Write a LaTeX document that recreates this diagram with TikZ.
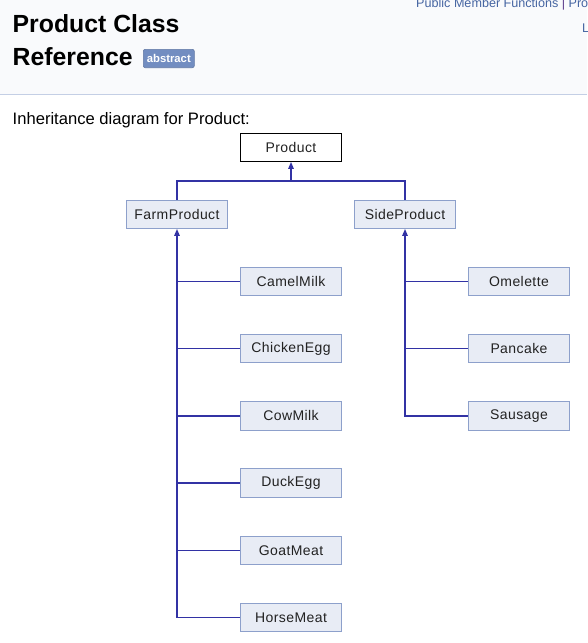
\documentclass[tikz,border=0pt]{standalone}
\usepackage{fontspec}
\setmainfont{Liberation Sans}
\newfontfamily\diafont[LetterSpace=3]{Liberation Sans}
\usetikzlibrary{arrows.meta}
\definecolor{headbg}{HTML}{F9FAFC}
\definecolor{headline}{HTML}{C4CFE5}
\definecolor{badgebg}{HTML}{728DC1}
\definecolor{linktext}{HTML}{4665A2}
\definecolor{classfill}{HTML}{E8ECF5}
\definecolor{classline}{HTML}{8DA0CB}
\definecolor{classtext}{HTML}{222222}
\definecolor{edgeblue}{HTML}{3232A4}
\begin{document}
\begin{tikzpicture}[x=1pt,y=-1pt,
  classbox/.style={draw=classline,fill=classfill,line width=1pt,minimum width=101.7pt,
    minimum height=28.3pt,inner sep=0pt,text=classtext,font=\diafont\fontsize{14}{16}\selectfont},
  rootbox/.style={classbox,draw=black,fill=white},
  inh/.style={draw=edgeblue,line width=1.35pt},
  inharrow/.style={inh,-{Triangle[length=7pt,width=5.5pt]}}]
\clip (0,0) rectangle (587,643);
\fill[white] (0,0) rectangle (587,643);
\fill[headbg] (0,0) rectangle (587,94);
\draw[headline,line width=1pt] (0,94.3) -- (587,94.3);
\node (links) at (416,7.3) [anchor=base west,text=linktext,inner sep=0pt,font=\fontsize{12.6}{14}\selectfont]
  {Public Member Functions \textcolor[HTML]{5A3A8A}{|} Protected};
\node (more) at (582,32.7) [anchor=base west,text=linktext,inner sep=0pt,font=\fontsize{12.6}{14}\selectfont] {List};
\node (title1) at (12.5,32.3) [anchor=base west,inner sep=0pt,font=\bfseries\fontsize{24.8}{28}\selectfont] {Product Class};
\node (title2) at (12.5,65) [anchor=base west,inner sep=0pt,font=\bfseries\fontsize{24.8}{28}\selectfont] {Reference};
\node (badge) at (168.8,58.5) [fill=badgebg,draw=badgebg!85!black,line width=0.6pt,rounded corners=2pt,
  minimum width=51pt,minimum height=18.4pt,inner sep=0pt,text=white,font=\bfseries\fontsize{11.3}{13}\selectfont] {abstract};
\node (caption) at (12.5,124) [anchor=base west,inner sep=0pt,font=\fontsize{16.6}{19}\selectfont] {Inheritance diagram for Product:};

\node (Product) at (291,147.3) [rootbox] {Product};
\node (FarmProduct) at (177,214.3) [classbox] {FarmProduct};
\node (SideProduct) at (405,214.3) [classbox] {SideProduct};
\coordinate (top) at (291,181);
\path[inh] (FarmProduct.north) |- (top) -| (SideProduct.north);
\path[inharrow] (top) -- (Product.south);

\node (CamelMilk)  at (291,281.5) [classbox] {CamelMilk};
\node (ChickenEgg) at (291,348.7) [classbox] {ChickenEgg};
\node (CowMilk)    at (291,415.9) [classbox] {CowMilk};
\node (DuckEgg)    at (291,483.1) [classbox] {DuckEgg};
\node (GoatMeat)   at (291,550.3) [classbox] {GoatMeat};
\node (HorseMeat)  at (291,617.5) [classbox] {HorseMeat};
\path[inharrow] (HorseMeat.west) -| (FarmProduct.south);
\foreach \c in {CamelMilk,ChickenEgg,CowMilk,DuckEgg,GoatMeat}
  \path[inh] (\c.west) -- (\c.west -| FarmProduct.south);

\node (Omelette) at (519,281.5) [classbox] {Omelette};
\node (Pancake)  at (519,348.7) [classbox] {Pancake};
\node (Sausage)  at (519,415.9) [classbox] {Sausage};
\path[inharrow] (Sausage.west) -| (SideProduct.south);
\foreach \c in {Omelette,Pancake}
  \path[inh] (\c.west) -- (\c.west -| SideProduct.south);
\end{tikzpicture}
\end{document}
